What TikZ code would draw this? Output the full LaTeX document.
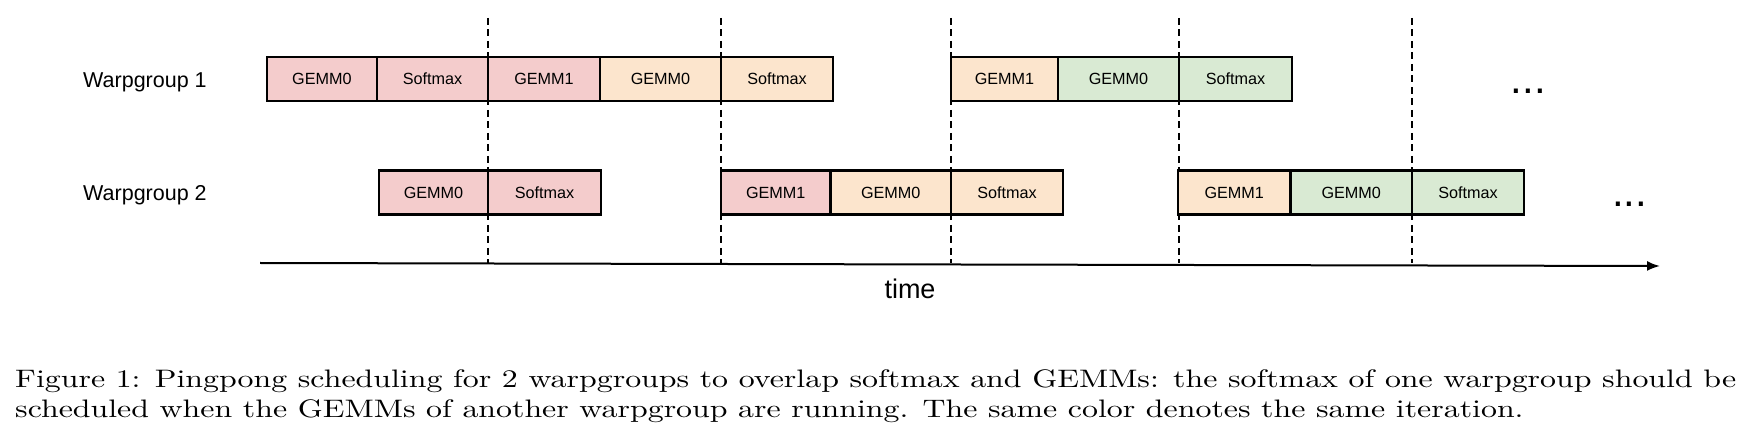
\documentclass[tikz,border=0pt]{standalone}
\usepackage{fontspec}
\usepackage{xcolor}
\usepackage{tikz}
\usetikzlibrary{arrows.meta,positioning}
\newfontfamily\diagfont{Liberation Sans}
\newfontfamily\capfont{lmroman10-regular.otf}[FakeStretch=1.26]
\definecolor{iterA}{HTML}{F4CCCC}
\definecolor{iterB}{HTML}{FCE5CD}
\definecolor{iterC}{HTML}{D9EAD3}
\tikzset{
  slot/.style={draw,line width=2.2pt,inner sep=0pt,outer sep=0pt,
    minimum height=44pt,minimum width=#1,
    font=\diagfont\fontsize{16.2}{19}\selectfont},
  rowlabel/.style={inner sep=0pt,anchor=base west,
    font=\diagfont\fontsize{21.5}{25}\selectfont},
  more/.style={inner sep=0pt,anchor=base west,
    font=\diagfont\fontsize{42}{48}\selectfont},
  boundary/.style={line width=1.8pt,dash pattern=on 7pt off 4.5pt},
  timeline/.style={line width=2pt,-{Latex[length=13pt,width=10pt]}},
  figcaption/.style={inner sep=0pt,anchor=base west,
    font=\capfont\fontsize{25.3}{30}\selectfont}
}
\begin{document}
\begin{tikzpicture}[x=1pt,y=-1pt]
  \useasboundingbox (0,0) rectangle (1743,443);
  \foreach \x in {488,721,951,1179,1412}
    \draw[boundary] (\x,18) -- (\x,263);
  \node[rowlabel] (wg1) at (83,87.3) {Warpgroup 1};
  \node[rowlabel] (wg2) at (83,200.5) {Warpgroup 2};
  % warpgroup 1
  \node[slot=110.3pt,fill=iterA,anchor=west] (a1) at (266.7,79) {GEMM0};
  \node[slot=111pt,fill=iterA,right=0pt of a1] (a2) {Softmax};
  \node[slot=112pt,fill=iterA,right=0pt of a2] (a3) {GEMM1};
  \node[slot=121pt,fill=iterB,right=0pt of a3] (a4) {GEMM0};
  \node[slot=112pt,fill=iterB,right=0pt of a4] (a5) {Softmax};
  \node[slot=107pt,fill=iterB,anchor=west] (a6) at (951,79) {GEMM1};
  \node[slot=121pt,fill=iterC,right=0pt of a6] (a7) {GEMM0};
  \node[slot=113pt,fill=iterC,right=0pt of a7] (a8) {Softmax};
  % warpgroup 2
  \node[slot=109pt,fill=iterA,anchor=west] (b1) at (379,192.5) {GEMM0};
  \node[slot=113pt,fill=iterA,right=0pt of b1] (b2) {Softmax};
  \node[slot=109.5pt,fill=iterA,anchor=west] (b3) at (721,192.5) {GEMM1};
  \node[slot=120.5pt,fill=iterB,right=0pt of b3] (b4) {GEMM0};
  \node[slot=112pt,fill=iterB,right=0pt of b4] (b5) {Softmax};
  \node[slot=112.5pt,fill=iterB,anchor=west] (b6) at (1178,192.5) {GEMM1};
  \node[slot=121.5pt,fill=iterC,right=0pt of b6] (b7) {GEMM0};
  \node[slot=112pt,fill=iterC,right=0pt of b7] (b8) {Softmax};
  \node[more] (dots1) at (1510.5,94) {...};
  \node[more] (dots2) at (1612,207) {...};
  \coordinate (t0) at (260,263);
  \coordinate (t1) at (1660,266);
  \draw[timeline] (t0) -- (t1);
  \node[anchor=base,inner sep=0pt,font=\diagfont\fontsize{27}{30}\selectfont] (time) at (910,299) {time};
  \node[figcaption] (cap1) at (15,387.3) {\makebox[1721pt][s]{Figure 1: Pingpong scheduling for 2 warpgroups to overlap softmax and GEMMs: the softmax of one warpgroup should be}};
  \node[figcaption] (cap2) at (15,417.3) {scheduled when the GEMMs of another warpgroup are running. The same color denotes the same iteration.};
\end{tikzpicture}
\end{document}
